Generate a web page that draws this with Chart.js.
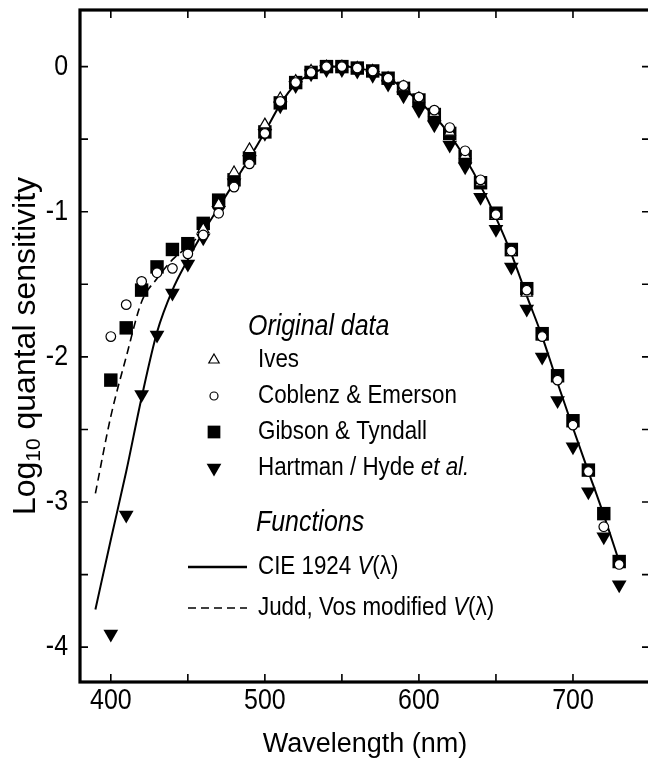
<!DOCTYPE html>
<html>
<head>
<meta charset="utf-8">
<title>Log quantal sensitivity</title>
<script src="https://cdn.jsdelivr.net/npm/chart.js@4.4.0/dist/chart.umd.min.js"></script>
<style>
  html, body { margin: 0; padding: 0; background: #fff; overflow: hidden; }
  #wrap { width: 662px; height: 762px; }
</style>
</head>
<body>
<div id="wrap"><canvas id="chart"></canvas></div>
<script>
// Wavelengths (nm) of the measured points
const wavelengths = [400, 410, 420, 430, 440, 450, 460, 470, 480, 490, 500, 510, 520, 530, 540, 550, 560,
                     570, 580, 590, 600, 610, 620, 630, 640, 650, 660, 670, 680, 690, 700, 710, 720, 730];

// Log10 quantal sensitivity of each data set (null = no measurement)
const ives = [null, null, null, null, null, null, -1.12, -0.95, -0.73, -0.57, -0.40, -0.22, -0.10, -0.03, 0.0, 0.0, -0.01,
              -0.03, -0.08, -0.14, -0.22, -0.32, -0.45, -0.61, -0.80, -1.03, -1.28, -1.56, -1.86, null, null, null, null, null];
const coblenz = [-1.86, -1.64, -1.48, -1.42, -1.39, -1.29, -1.16, -1.01, -0.83, -0.67, -0.46, -0.24, -0.11, -0.04, 0.0, 0.0, -0.01,
                 -0.03, -0.08, -0.13, -0.21, -0.30, -0.42, -0.58, -0.78, -1.02, -1.27, -1.54, -1.86, -2.16, -2.47, -2.79, -3.17, -3.43];
const gibson = [-2.16, -1.80, -1.54, -1.38, -1.26, -1.22, -1.08, -0.92, -0.78, -0.63, -0.45, -0.25, -0.11, -0.04, 0.0, 0.0, -0.01,
                -0.03, -0.08, -0.15, -0.23, -0.33, -0.46, -0.62, -0.80, -1.01, -1.26, -1.53, -1.84, -2.13, -2.44, -2.78, -3.08, -3.41];
const hartman = [-3.91, -3.09, -2.26, -1.85, -1.56, -1.36, -1.18, -0.99, -0.80, -0.64, -0.46, -0.27, -0.13, -0.05, -0.02, -0.02, -0.03,
                 -0.06, -0.12, -0.20, -0.30, -0.40, -0.54, -0.69, -0.90, -1.12, -1.38, -1.67, -2.00, -2.30, -2.62, -2.93, -3.24, -3.57];

// CIE 1924 V(lambda) as log quantal sensitivity
const cieWl = [390, 400, 410, 420, 430, 440, 450, 460, 470, 480, 490, 500, 510, 520, 530, 540, 550, 560,
               570, 580, 590, 600, 610, 620, 630, 640, 650, 660, 670, 680, 690, 700, 710, 720, 730];
const cieLog = [-3.74, -3.26, -2.79, -2.28, -1.83, -1.54, -1.33, -1.14, -0.97, -0.80, -0.63, -0.45, -0.26, -0.12, -0.05, -0.01, 0.0, -0.01,
                -0.035, -0.08, -0.15, -0.24, -0.34, -0.47, -0.63, -0.82, -1.04, -1.29, -1.58, -1.86, -2.18, -2.49, -2.79, -3.09, -3.41];

// Judd, Vos modified V(lambda), short-wavelength part only
const juddWl = [390, 400, 410, 420, 430, 440, 450, 460];
const juddLog = [-2.94, -2.41, -2.00, -1.62, -1.46, -1.33, -1.24, -1.14];

// tick marks and tick labels
const X_TICKS = [400, 450, 500, 550, 600, 650, 700];
const Y_TICKS = [0, -0.5, -1, -1.5, -2, -2.5, -3, -3.5, -4];
const X_LABELS = [400, 500, 600, 700];
const Y_LABELS = [0, -1, -2, -3, -4];

const SANS = "'Liberation Sans', Arial, Helvetica, sans-serif";
const SQUEEZE = 0.86; // the lettering is a narrow grotesque

function toPoints(xs, ys) {
    return xs.map((x, i) => ({ x, y: ys[i] })).filter(p => p.y !== null);
}

// draws a run of [text, font] pieces squeezed horizontally, starting at x
function narrowText(ctx, pieces, x, y, align) {
    ctx.save();
    ctx.textAlign = 'left';
    ctx.textBaseline = 'middle';
    let total = 0;
    pieces.forEach(([t, f]) => { ctx.font = f; total += ctx.measureText(t).width; });
    ctx.translate(x, y);
    ctx.scale(SQUEEZE, 1);
    let cx = align === 'right' ? -total : align === 'center' ? -total / 2 : 0;
    pieces.forEach(([t, f]) => {
        ctx.font = f;
        ctx.fillText(t, cx, 0);
        cx += ctx.measureText(t).width;
    });
    ctx.restore();
}

// Frame, inward ticks, tick labels, axis titles and the in-plot key
const decorations = {
    id: 'decorations',
    afterDraw(chart) {
        const { ctx, chartArea: a, scales } = chart;
        const xs = scales.x, ys = scales.y;
        ctx.save();
        ctx.strokeStyle = '#000';
        ctx.fillStyle = '#000';

        // inward tick marks on all four sides
        ctx.lineWidth = 1.6;
        ctx.beginPath();
        X_TICKS.forEach(v => {
            const px = xs.getPixelForValue(v);
            ctx.moveTo(px, a.bottom); ctx.lineTo(px, a.bottom - 8);
            ctx.moveTo(px, a.top); ctx.lineTo(px, a.top + 8);
        });
        Y_TICKS.forEach(v => {
            const py = ys.getPixelForValue(v);
            ctx.moveTo(a.left, py); ctx.lineTo(a.left + 8, py);
            ctx.moveTo(a.right, py); ctx.lineTo(a.right - 8, py);
        });
        ctx.stroke();

        // heavy box
        ctx.lineWidth = 3.2;
        ctx.strokeRect(a.left, a.top, a.right - a.left, a.bottom - a.top);

        // tick labels
        const tickFont = '29px ' + SANS;
        X_LABELS.forEach(v => narrowText(ctx, [[String(v), tickFont]], xs.getPixelForValue(v), a.bottom + 19, 'center'));
        Y_LABELS.forEach(v => narrowText(ctx, [[String(v), tickFont]], a.left - 12, ys.getPixelForValue(v), 'right'));

        // x title
        ctx.font = '27px ' + SANS;
        ctx.textAlign = 'center';
        ctx.textBaseline = 'middle';
        ctx.fillText('Wavelength (nm)', (a.left + a.right) / 2, 745);

        // y title with subscript 10
        const main = '32px ' + SANS, sub = '21px ' + SANS;
        ctx.font = main;
        const w1 = ctx.measureText('Log').width;
        const w3 = ctx.measureText(' quantal sensitivity').width;
        ctx.font = sub;
        const w2 = ctx.measureText('10').width;
        const total = w1 + w2 + w3;
        ctx.save();
        ctx.translate(26, (a.top + a.bottom) / 2);
        ctx.rotate(-Math.PI / 2);
        ctx.textAlign = 'left';
        ctx.textBaseline = 'middle';
        let x0 = -total / 2;
        ctx.font = main; ctx.fillText('Log', x0, 0); x0 += w1;
        ctx.font = sub; ctx.fillText('10', x0, 8); x0 += w2;
        ctx.font = main; ctx.fillText(' quantal sensitivity', x0, 0);
        ctx.restore();

        // key
        const head = 'italic 29px ' + SANS;
        const body = '26px ' + SANS;
        const bodyIt = 'italic 26px ' + SANS;
        narrowText(ctx, [['Original data', head]], 248, 327, 'left');
        narrowText(ctx, [['Functions', head]], 256, 523, 'left');

        const rows = [
            { pieces: [['Ives', body]], y: 360, fill: '#fff',
              style: { pointStyle: 'triangle', radius: 6, rotation: 0, borderWidth: 1.2 } },
            { pieces: [['Coblenz & Emerson', body]], y: 396, fill: '#fff',
              style: { pointStyle: 'circle', radius: 4, rotation: 0, borderWidth: 1.2 } },
            { pieces: [['Gibson & Tyndall', body]], y: 432, fill: '#000',
              style: { pointStyle: 'rect', radius: 9, rotation: 0, borderWidth: 0 } },
            { pieces: [['Hartman / Hyde ', body], ['et al.', bodyIt]], y: 468, fill: '#000',
              style: { pointStyle: 'triangle', radius: 8.5, rotation: 180, borderWidth: 0 } }
        ];
        rows.forEach(r => {
            ctx.fillStyle = r.fill;
            ctx.strokeStyle = '#000';
            ctx.lineWidth = r.style.borderWidth;
            Chart.helpers.drawPoint(ctx, r.style, 214, r.y);
            ctx.fillStyle = '#000';
            narrowText(ctx, r.pieces, 258, r.y, 'left');
        });

        // function samples
        ctx.strokeStyle = '#000';
        ctx.lineWidth = 2.6;
        ctx.beginPath(); ctx.moveTo(188, 567); ctx.lineTo(247, 567); ctx.stroke();
        ctx.lineWidth = 1.6;
        ctx.setLineDash([8, 5]);
        ctx.beginPath(); ctx.moveTo(188, 608); ctx.lineTo(247, 608); ctx.stroke();
        ctx.setLineDash([]);

        narrowText(ctx, [['CIE 1924 ', body], ['V', bodyIt], ['(λ)', body]], 258, 567, 'left');
        narrowText(ctx, [['Judd, Vos modified ', body], ['V', bodyIt], ['(λ)', body]], 258, 608, 'left');
        ctx.restore();
    }
};

const ctx = document.getElementById('chart').getContext('2d');
new Chart(ctx, {
    type: 'scatter',
    data: {
        datasets: [
            {
                label: 'Coblenz & Emerson',
                data: toPoints(wavelengths, coblenz),
                pointStyle: 'circle', pointRadius: 4.8,
                backgroundColor: '#fff', borderColor: '#000', borderWidth: 1.2,
                order: 1
            },
            {
                label: 'Ives',
                data: toPoints(wavelengths, ives),
                pointStyle: 'triangle', pointRadius: 6.5,
                backgroundColor: '#fff', borderColor: '#000', borderWidth: 1.2,
                order: 2
            },
            {
                label: 'Gibson & Tyndall',
                data: toPoints(wavelengths, gibson),
                pointStyle: 'rect', pointRadius: 9.5,
                backgroundColor: '#000', borderColor: '#000', borderWidth: 0,
                order: 3
            },
            {
                label: 'Hartman / Hyde et al.',
                data: toPoints(wavelengths, hartman),
                pointStyle: 'triangle', pointRotation: 180, pointRadius: 8.5,
                backgroundColor: '#000', borderColor: '#000', borderWidth: 0,
                order: 4
            },
            {
                label: 'CIE 1924 V(λ)',
                type: 'line',
                data: toPoints(cieWl, cieLog),
                borderColor: '#000', borderWidth: 2,
                pointRadius: 0, fill: false,
                cubicInterpolationMode: 'monotone',
                order: 5
            },
            {
                label: 'Judd, Vos modified V(λ)',
                type: 'line',
                data: toPoints(juddWl, juddLog),
                borderColor: '#000', borderWidth: 1.6, borderDash: [8, 5],
                pointRadius: 0, fill: false,
                cubicInterpolationMode: 'monotone',
                order: 6
            }
        ]
    },
    options: {
        responsive: true,
        maintainAspectRatio: false,
        animation: false,
        layout: { padding: { top: 10, right: 12, left: 0, bottom: 0 } },
        plugins: {
            legend: { display: false },
            tooltip: { enabled: false }
        },
        scales: {
            x: {
                type: 'linear',
                min: 380,
                max: 750,
                grid: { display: false, drawTicks: false },
                border: { display: false },
                afterFit: scale => { scale.height = 80; },
                ticks: { display: false, stepSize: 50 }
            },
            y: {
                type: 'linear',
                min: -4.24,
                max: 0.39,
                grid: { display: false, drawTicks: false },
                border: { display: false },
                afterFit: scale => { scale.width = 80; },
                ticks: { display: false, stepSize: 0.5 }
            }
        }
    },
    plugins: [decorations]
});
</script>
</body>
</html>
